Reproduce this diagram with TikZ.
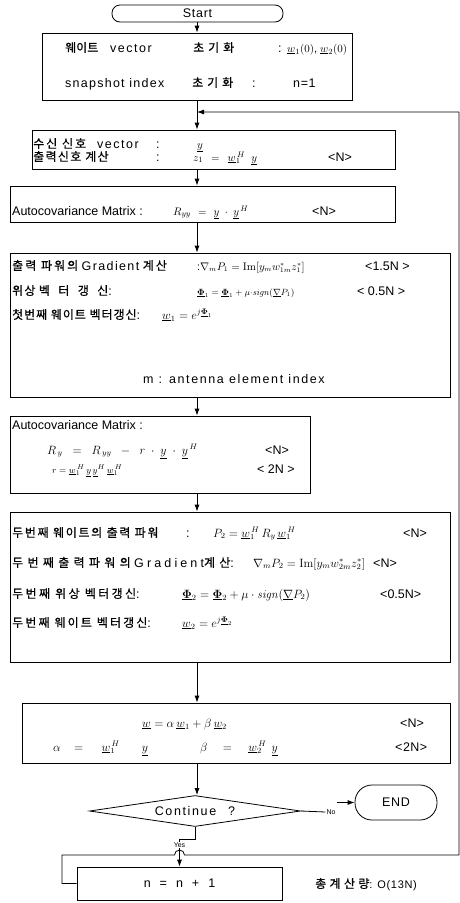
\documentclass[tikz,border=0pt]{standalone}
\usepackage[no-math]{fontspec}
\setmainfont{Liberation Sans}
\newfontfamily\kr[FakeBold=0.6]{Noto Sans CJK KR}
\newcommand\hk[2][6]{{\kr\fontsize{12}{14}\selectfont\addfontfeature{LetterSpace=#1}#2}}
\newcommand\ls[2]{{\addfontfeature{LetterSpace=#1}#2}}
\newcommand\uPhi{\underline{\mathbf{\Phi}}}
\usetikzlibrary{arrows.meta,shapes.geometric}
\tikzset{
  box/.style={draw, line width=0.8pt, inner sep=0pt},
  term/.style={box, rounded corners=8pt, font=\fontsize{12.5}{14}\selectfont},
  txt/.style={anchor=base west, inner sep=0pt, font=\fontsize{12.5}{14}\selectfont},
  eq/.style={anchor=base west, inner sep=0pt, font=\fontsize{#1}{12}\selectfont},
  eq/.default=10.5,
  lbl/.style={inner sep=1pt, font=\fontsize{7}{8}\selectfont},
  arr/.style={-{Latex[length=7pt,width=5pt]}, line width=0.8pt},
  wire/.style={line width=0.8pt},
}
\begin{document}
\begin{tikzpicture}[x=1pt,y=-1pt]
\useasboundingbox (0,0) rectangle (460,903);
\coordinate (col) at (197,0);

\node[term, minimum width=171pt, minimum height=17pt] (start) at (197.5,13.5) {\ls{6}{Start}};

% initialisation
\node[box, minimum width=310pt, minimum height=67pt] (init) at (197,66.5) {};
\node[txt] (i1a) at (65,52) {\hk[0]{웨이트}};
\node[txt] (i1b) at (110,52) {\ls{12}{vector}};
\node[txt] (i1c) at (193,52) {\hk[33]{초기화}};
\node[txt] (i1d) at (278,52) {:};
\node[eq=11] (i1w) at (287,52) {$\underline{w}_1(0)$,};
\node[eq=11] (i2w) at (320,52) {$\underline{w}_2(0)$};
\node[txt] (i2a) at (65,87) {\ls{10}{snapshot index}};
\node[txt] (i2b) at (192,87) {\hk[33]{초기화}};
\node[txt] (i2c) at (252,87) {:};
\node[txt] (i2n) at (293,87) {\ls{5}{n=1}};

% received signal
\node[box, minimum width=363pt, minimum height=39pt] (recv) at (213.5,149.5) {};
\node[txt] (r1a) at (33,148) {\hk[17]{수신 신호}};
\node[txt] (r1b) at (97,148) {\ls{12}{vector}};
\node[txt] (r1c) at (156,148) {:};
\node[eq=11] (r1y) at (197,148) {$\underline{y}$};
\node[txt] (r2a) at (33,161) {\hk[11]{출력신호 계산}};
\node[txt] (r2c) at (156,161) {:};
\node[eq=11] (r2z) at (193,161) {$z_1\hspace{5pt}=\hspace{5pt}\underline{w}_1^{\,H}\hspace{6pt}\underline{y}$};
\node[txt] (r2n) at (328,161) {<N>};

% autocovariance
\node[box, minimum width=385pt, minimum height=36pt] (auto) at (202.5,204) {};
\node[txt] (a1) at (12,215) {Autocovariance Matrix :};
\node[eq=11] (a1r) at (173,215) {$R_{yy}\hspace{4pt}=\hspace{4pt}\underline{y}\hspace{3pt}\cdot\hspace{3pt}\underline{y}^{\,H}$};
\node[txt] (a1c) at (312,215) {<N>};

% first weight
\node[box, minimum width=440pt, minimum height=144pt] (grad) at (230,325) {};
\node[txt] (g1a) at (12,270) {\hk[17]{출력 파워의} \ls{11}{Gradient} \hk[17]{계산}};
\node[eq] (g1f) at (197,270) {:$\nabla_m P_1 = \mathrm{Im}[y_m w_{1m}^* z_1^*]$};
\node[txt] (g1c) at (365,270) {<1.5N >};
\node[txt] (g2a) at (12,295) {\hk[10]{위상} \hk[70]{벡터갱신}:};
\node[eq=9] (g2f) at (197,295) {$\uPhi_1 = \uPhi_1 + \mu{\cdot}\mathit{sign}(\underline{\nabla}P_1)$};
\node[txt] (g2c) at (357,295) {< 0.5N >};
\node[txt] (g3a) at (12,319) {\hk[8]{첫번째 웨이트 벡터갱신}:};
\node[eq=11.5] (g3f) at (162,319) {$\underline{w}_1 = e^{j\uPhi_1}$};
\node[txt, anchor=base] (g4) at (234,383) {\ls{13}{m : antenna element index}};

% updated autocovariance
\node[box, minimum width=300pt, minimum height=77pt] (cov) at (160,454.5) {};
\node[txt] (c1) at (12,429) {Autocovariance Matrix :};
\node[eq=11.5] (c2f) at (47,454) {$R_{\,y}\;\;=\;\;R_{\,yy}\;\;-\;\;r\;\cdot\;\underline{y}\;\cdot\;\underline{y}^{\,H}$};
\node[txt] (c2c) at (265,454) {<N>};
\node[eq=9.5] (c3f) at (52,473) {$r = \underline{w}_1^{\,H}\,\underline{y}\,\underline{y}^H\,\underline{w}_1^{\,H}$};
\node[txt] (c3c) at (257,473) {< 2N >};

% second weight
\node[box, minimum width=440pt, minimum height=150pt] (sec) at (230,587) {};
\node[txt] (s1a) at (12,537) {\hk[14]{두번째 웨이트의 출력 파워}};
\node[txt] (s1b) at (186,537) {:};
\node[eq=12] (s1f) at (213,537) {$P_2 = \underline{w}_1^{\,H}\,R_y\,\underline{w}_1^{\,H}$};
\node[txt] (s1c) at (403,537) {<N>};
\node[txt] (s2a) at (12,567) {\hk[36]{두번째출력파워의} \ls{25}{Gradient}\hk[36]{계산}:};
\node[eq=11.5] (s2f) at (253,567) {$\nabla_m P_2 = \mathrm{Im}[y_m w_{2m}^* z_2^*]$};
\node[txt] (s2c) at (373,567) {<N>};
\node[txt] (s3a) at (12,598) {\hk[20]{두번째 위상 벡터갱신}:};
\node[eq=11.5] (s3f) at (182,598) {$\uPhi_2 = \uPhi_2 + \mu\cdot \mathit{sign}(\underline{\nabla}P_2)$};
\node[txt] (s3c) at (380,598) {<0.5N>};
\node[txt] (s4a) at (12,627) {\hk[18]{두번째 웨이트 벡터갱신}:};
\node[eq=12] (s4f) at (182,627) {$\underline{w}_2 = e^{j\uPhi_2}$};

% combined weight
\node[box, minimum width=428pt, minimum height=60pt] (comb) at (236,733) {};
\node[eq=11.5] (m1f) at (142,727) {$\underline{w} = \alpha\,\underline{w}_1 + \beta\,\underline{w}_2$};
\node[txt] (m1c) at (400,727) {<N>};
\node[eq=11.5] (m2a) at (53,751) {$\alpha\hspace{10pt}=\hspace{15pt}\underline{w}_1^{\,H}\hspace{22pt}\underline{y}$};
\node[eq=11.5] (m2b) at (200,751) {$\beta\hspace{12pt}=\hspace{13pt}\underline{w}_2^{\,H}\hspace{5pt}\underline{y}$};
\node[txt] (m2c) at (395,751) {\ls{4}{<2N>}};

% decision
\node[box, shape=diamond, aspect=6.8, minimum width=211pt, minimum height=31pt,
  font=\fontsize{12.5}{14}\selectfont] (dia) at (195,811) {\ls{13}{Continue}\hspace{12pt}?};
\node[term, rounded corners=17pt, minimum width=82pt, minimum height=35pt] (endn) at (396,802.5) {\ls{5}{END}};
\node[lbl] (no) at (331,812) {No};

\node[box, minimum width=205pt, minimum height=33pt, font=\fontsize{12.5}{14}\selectfont] (nbox) at (179.5,883.5)
  {n\hspace{9pt}=\hspace{9pt}n\hspace{9pt}+\hspace{9pt}1};
\node[txt, font=\fontsize{11}{13}\selectfont] (total) at (315,888) {\hk[28]{총계산량}\ls{6}{: O(13N)}};

% connectors
\coordinate (join) at (197,112);
\draw[arr] (start.south -| col) -- (init.north -| col);
\draw[arr] (init.south -| col) -- (recv.north -| col);
\draw[arr] (recv.south -| col) -- (auto.north -| col);
\draw[arr] (auto.south -| col) -- (grad.north -| col);
\draw[arr] (grad.south -| col) -- (cov.north -| col);
\draw[arr] (cov.south -| col) -- (sec.north -| col);
\draw[arr] (sec.south -| col) -- (comb.north -| col);
\draw[arr] (comb.south -| col) -- (dia.north -| col);
\draw[wire] (dia.east) -- (no.west);
\draw[arr] (no.east |- endn.west) -- (endn.west);
\draw[arr] (dia.south) -- ++(0,12) -| (nbox.north);
\node[lbl, fill=white] (yes) at (179.5,845) {Yes};
\draw[arr] (nbox.west) -- (62,883.5) -- (62,855) -- (174.5,855)
  arc[start angle=180, end angle=360, radius=5] -- (459,855) -- (459,112) -- (join);
\end{tikzpicture}
\end{document}
